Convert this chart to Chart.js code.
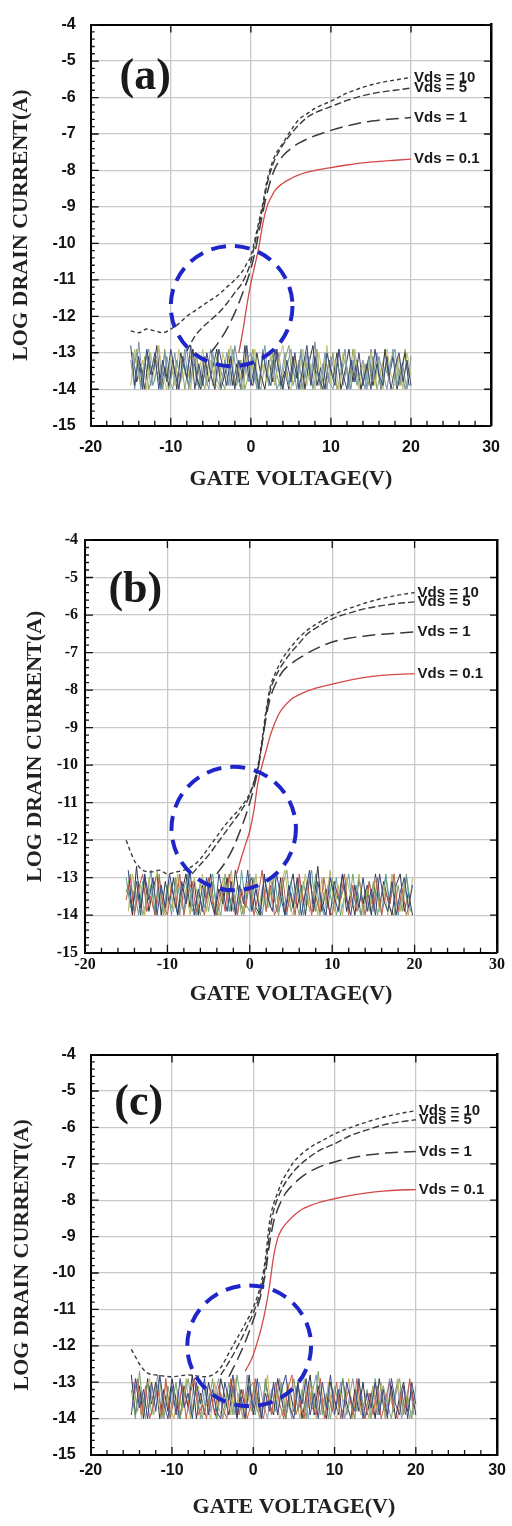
<!DOCTYPE html>
<html>
<head>
<meta charset="utf-8">
<script src="https://cdn.jsdelivr.net/npm/chart.js@4.4.0/dist/chart.umd.min.js"></script>
<style>
  html, body { margin: 0; padding: 0; background: #fff; }
  #page { position: relative; width: 512px; height: 1526px; overflow: hidden; }
  #page canvas { position: absolute; left: 0; }
</style>
</head>
<body>
<div id="page">
  <canvas id="panelA" width="512" height="500" style="top:0px"></canvas>
  <canvas id="panelB" width="512" height="500" style="top:520px"></canvas>
  <canvas id="panelC" width="512" height="496" style="top:1030px"></canvas>
</div>
<script>
const VDS_LABELS = ['Vds = 10', 'Vds = 5', 'Vds = 1', 'Vds = 0.1'];

// ---- panel (a) curves: gate voltage (V) / log drain current (A)
const A_V10_X = [-15, -14, -13, -12, -11, -10, -9, -8, -7, -6, -5, -4, -3, -2, -1, -0.5, 0, 0.5, 1, 1.5, 2, 2.5, 3, 4, 5, 6, 7, 8, 10, 12, 14, 16, 18, 20];
const A_V10_Y = [-12.4, -12.45, -12.35, -12.4, -12.45, -12.35, -12.2, -12.0, -11.85, -11.7, -11.55, -11.4, -11.2, -11.0, -10.75, -10.55, -10.35, -9.9, -9.4, -8.9, -8.3, -7.9, -7.6, -7.25, -6.9, -6.6, -6.45, -6.3, -6.1, -5.88, -5.72, -5.6, -5.52, -5.45];
const A_V5_X = [-8, -7, -6, -5, -4, -3, -2, -1, 0, 0.5, 1, 1.5, 2, 2.5, 3, 4, 5, 6, 7, 8, 10, 12, 14, 16, 18, 20];
const A_V5_Y = [-12.95, -12.55, -12.3, -12.1, -11.9, -11.65, -11.35, -11.05, -10.5, -10.0, -9.5, -9.0, -8.4, -8.0, -7.7, -7.3, -7.0, -6.75, -6.55, -6.42, -6.25, -6.08, -5.95, -5.86, -5.8, -5.74];
const A_V1_X = [-5, -4, -3, -2, -1, 0, 0.5, 1, 1.5, 2, 2.5, 3, 4, 5, 6, 8, 10, 12, 14, 16, 18, 20];
const A_V1_Y = [-13.0, -12.7, -12.35, -11.9, -11.35, -10.7, -10.25, -9.7, -9.15, -8.65, -8.25, -7.95, -7.6, -7.4, -7.25, -7.05, -6.9, -6.78, -6.68, -6.62, -6.58, -6.55];
const A_V01_X = [-1.5, -1, -0.5, 0, 0.5, 1, 1.5, 2, 2.5, 3, 4, 5, 6, 8, 10, 12, 14, 16, 18, 20];
const A_V01_Y = [-13.0, -12.4, -11.7, -11.1, -10.6, -10.1, -9.45, -9.0, -8.75, -8.55, -8.35, -8.22, -8.12, -8.0, -7.92, -7.85, -7.79, -7.75, -7.72, -7.69];

// ---- panel (b)
const B_V10_X = [-15, -14.5, -14, -13.5, -13, -12, -11, -10, -9, -8, -7, -6, -5, -4, -3, -2, -1, 0, 0.5, 1, 1.5, 2, 2.5, 3, 4, 5, 6, 7, 8, 10, 12, 14, 16, 18, 20];
const B_V10_Y = [-12.0, -12.3, -12.55, -12.7, -12.8, -12.85, -12.8, -12.9, -12.85, -12.8, -12.7, -12.5, -12.2, -11.9, -11.6, -11.35, -11.1, -10.75, -10.45, -10.0, -9.3, -8.5, -7.9, -7.6, -7.15, -6.85, -6.6, -6.4, -6.25, -6.0, -5.83, -5.68, -5.56, -5.47, -5.4];
const B_V5_X = [-7, -6, -5, -4, -3, -2, -1, 0, 0.5, 1, 1.5, 2, 2.5, 3, 4, 5, 6, 7, 8, 10, 12, 14, 16, 18, 20];
const B_V5_Y = [-12.9, -12.65, -12.4, -12.1, -11.8, -11.5, -11.2, -10.8, -10.45, -10.05, -9.4, -8.6, -8.0, -7.7, -7.3, -7.0, -6.75, -6.5, -6.35, -6.1, -5.95, -5.83, -5.75, -5.69, -5.65];
const B_V1_X = [-4, -3, -2, -1, -0.5, 0, 0.5, 1, 1.5, 2, 2.5, 3, 4, 5, 6, 8, 10, 12, 14, 16, 18, 20];
const B_V1_Y = [-12.9, -12.6, -12.2, -11.65, -11.35, -11.0, -10.6, -10.1, -9.4, -8.7, -8.2, -7.9, -7.5, -7.3, -7.15, -6.9, -6.72, -6.62, -6.56, -6.51, -6.48, -6.45];
const B_V01_X = [-1.6, -1, -0.5, 0, 0.5, 1, 1.5, 2, 2.5, 3, 3.5, 4, 5, 6, 8, 10, 12, 14, 16, 18, 20];
const B_V01_Y = [-12.9, -12.45, -12.1, -11.75, -11.2, -10.45, -10.0, -9.6, -9.2, -8.9, -8.65, -8.48, -8.25, -8.12, -7.95, -7.84, -7.74, -7.66, -7.61, -7.58, -7.56];

// ---- panel (c)
const C_V10_X = [-15, -14.5, -14, -13.5, -13, -12, -10, -8, -6, -5, -4, -3, -2, -1, 0, 0.5, 1, 1.5, 2, 2.5, 3, 3.5, 4, 5, 6, 7, 8, 9, 10, 12, 14, 16, 18, 20];
const C_V10_Y = [-12.1, -12.3, -12.5, -12.65, -12.75, -12.8, -12.85, -12.8, -12.85, -12.8, -12.6, -12.2, -11.8, -11.4, -10.95, -10.65, -10.25, -9.6, -8.6, -8.1, -7.8, -7.5, -7.3, -6.95, -6.72, -6.55, -6.42, -6.3, -6.18, -6.0, -5.85, -5.72, -5.62, -5.54];
const C_V5_X = [-4, -3, -2, -1, 0, 0.5, 1, 1.5, 2, 2.5, 3, 3.5, 4, 5, 6, 7, 8, 10, 12, 14, 16, 18, 20];
const C_V5_Y = [-12.8, -12.45, -12.05, -11.6, -11.1, -10.8, -10.4, -9.8, -8.9, -8.3, -7.95, -7.7, -7.5, -7.2, -6.98, -6.8, -6.65, -6.45, -6.22, -6.07, -5.93, -5.85, -5.79];
const C_V1_X = [-3, -2, -1, 0, 0.5, 1, 1.5, 2, 2.5, 3, 3.5, 4, 5, 6, 8, 10, 12, 14, 16, 18, 20];
const C_V1_Y = [-12.85, -12.4, -11.9, -11.3, -10.95, -10.55, -10.0, -9.2, -8.6, -8.25, -8.0, -7.8, -7.55, -7.35, -7.1, -6.95, -6.84, -6.76, -6.71, -6.68, -6.66];
const C_V01_X = [-1, -0.5, 0, 0.5, 1, 1.5, 2, 2.5, 3, 3.5, 4, 5, 6, 7, 8, 10, 12, 14, 16, 18, 20];
const C_V01_Y = [-12.7, -12.5, -12.25, -11.9, -11.5, -11.0, -10.35, -9.55, -9.05, -8.8, -8.65, -8.42, -8.25, -8.15, -8.07, -7.96, -7.87, -7.8, -7.75, -7.72, -7.71];

// ---- noise floor traces (off-state current, read as spikes between -12.7 and -14)
const NOISE_V_A = [-15, -14.5, -14, -13.5, -13, -12.5, -12, -11.5, -11, -10.5, -10, -9.5, -9, -8.5, -8, -7.5, -7, -6.5, -6, -5.5,
  -5, -4.5, -4, -3.5, -3, -2.5, -2, -1.5, -1, -0.5, 0, 0.5, 1, 1.5, 2, 2.5, 3, 3.5, 4, 4.5,
  5, 5.5, 6, 6.5, 7, 7.5, 8, 8.5, 9, 9.5, 10, 10.5, 11, 11.5, 12, 12.5, 13, 13.5, 14, 14.5,
  15, 15.5, 16, 16.5, 17, 17.5, 18, 18.5, 19, 19.5, 20];
const NOISE_V_B = [-14.75, -14.25, -13.75, -13.25, -12.75, -12.25, -11.75, -11.25, -10.75, -10.25, -9.75, -9.25, -8.75, -8.25, -7.75, -7.25, -6.75, -6.25, -5.75, -5.25,
  -4.75, -4.25, -3.75, -3.25, -2.75, -2.25, -1.75, -1.25, -0.75, -0.25, 0.25, 0.75, 1.25, 1.75, 2.25, 2.75, 3.25, 3.75, 4.25, 4.75,
  5.25, 5.75, 6.25, 6.75, 7.25, 7.75, 8.25, 8.75, 9.25, 9.75, 10.25, 10.75, 11.25, 11.75, 12.25, 12.75, 13.25, 13.75, 14.25, 14.75,
  15.25, 15.75, 16.25, 16.75, 17.25, 17.75, 18.25, 18.75, 19.25, 19.75];
const NOISE_1 = [-12.8, -13.9, -13.1, -14.0, -12.9, -13.6, -13.0, -14.0, -13.2, -13.8,
  -12.9, -13.5, -14.0, -13.1, -13.7, -12.8, -14.0, -13.3, -13.9, -13.0,
  -13.6, -14.0, -12.9, -13.4, -13.9, -13.1, -14.0, -13.2, -13.7, -12.8,
  -13.9, -13.3, -14.0, -13.0, -13.6, -13.9, -12.9, -13.5, -14.0, -13.2,
  -13.8, -13.0, -14.0, -13.4, -12.8, -13.9, -13.1, -13.7, -14.0, -13.0,
  -13.5, -13.9, -12.9, -13.6, -14.0, -13.2, -13.8, -13.0, -13.9, -13.3,
  -14.0, -12.9, -13.6, -13.9, -13.1, -14.0, -13.4, -13.0, -13.8, -13.2, -13.9];
const NOISE_2 = [-13.9, -12.9, -13.7, -13.2, -14.0, -13.0, -13.8, -12.8, -13.6, -14.0,
  -13.1, -13.9, -12.9, -13.7, -13.3, -14.0, -13.0, -13.6, -12.9, -13.9,
  -13.2, -13.8, -14.0, -13.0, -13.5, -12.8, -13.9, -13.4, -14.0, -13.1,
  -13.7, -12.9, -14.0, -13.3, -13.8, -13.0, -13.9, -13.2, -12.8, -13.7,
  -14.0, -13.1, -13.6, -12.9, -13.9, -13.3, -14.0, -13.0, -13.7, -12.8,
  -13.9, -13.2, -14.0, -13.0, -13.5, -13.8, -12.9, -14.0, -13.3, -13.7,
  -13.0, -13.9, -13.2, -14.0, -12.9, -13.6, -13.9, -13.1, -14.0, -13.0, -13.6];
const NOISE_3 = [-13.2, -14.0, -12.7, -13.8, -13.0, -13.9, -13.3, -12.9, -14.0, -13.1,
  -13.7, -13.0, -14.0, -13.4, -12.9, -13.8, -13.1, -14.0, -13.2, -13.6,
  -12.9, -14.0, -13.3, -13.7, -13.0, -13.9, -12.8, -13.5, -14.0, -13.2,
  -13.0, -13.8, -14.0, -12.9, -13.6, -13.1, -13.9, -13.0, -14.0, -13.4,
  -12.9, -13.8, -13.2, -14.0, -13.0, -13.7, -12.7, -13.9, -13.3, -14.0,
  -13.1, -13.6, -12.9, -13.9, -13.4, -14.0, -13.0, -13.7, -13.2, -14.0,
  -12.9, -13.8, -13.1, -13.6, -14.0, -13.2, -12.9, -13.9, -13.4, -14.0, -13.1];
const NOISE_4 = [-13.6, -13.0, -14.0, -13.3, -12.9, -13.9, -13.5, -14.0, -13.0, -13.7,
  -14.0, -13.2, -13.8, -12.9, -14.0, -13.4, -13.1, -13.9, -13.6, -14.0,
  -13.0, -13.7, -14.0, -13.2, -13.9, -12.9, -13.6, -14.0, -13.3, -13.8,
  -13.1, -14.0, -13.5, -12.8, -13.9, -13.2, -14.0, -13.7, -13.0, -13.9,
  -13.4, -14.0, -12.9, -13.7, -13.1, -14.0, -13.5, -13.9, -13.0, -13.8,
  -14.0, -13.3, -13.6, -12.9, -14.0, -13.2, -13.9, -13.5, -14.0, -13.1,
  -13.8, -13.0, -14.0, -13.4, -13.7, -12.9, -13.9, -13.3, -14.0, -13.6];
const NOISE_5 = [-13.0, -13.8, -13.3, -14.0, -13.1, -13.6, -12.8, -14.0, -13.4, -13.9,
  -13.2, -14.0, -13.0, -13.5, -13.9, -12.9, -13.7, -14.0, -13.1, -13.8,
  -13.4, -12.9, -14.0, -13.6, -13.1, -13.9, -13.3, -14.0, -12.8, -13.7,
  -13.9, -13.0, -13.6, -14.0, -13.2, -13.8, -12.9, -13.9, -13.5, -14.0,
  -13.1, -13.7, -13.0, -14.0, -13.3, -12.8, -13.9, -13.4, -14.0, -13.2,
  -13.7, -13.0, -14.0, -13.5, -12.9, -13.8, -13.2, -14.0, -13.6, -13.1,
  -13.9, -13.3, -14.0, -12.9, -13.7, -13.1, -14.0, -13.5, -13.0, -13.9];
const NOISE_6 = [-13.4, -12.9, -13.9, -13.1, -14.0, -13.6, -13.2, -13.9, -12.9, -14.0,
  -13.5, -13.8, -13.1, -14.0, -13.3, -12.9, -13.9, -13.6, -14.0, -13.2,
  -13.9, -13.1, -13.7, -14.0, -12.9, -13.5, -13.9, -13.2, -14.0, -13.6,
  -12.9, -13.8, -14.0, -13.3, -13.9, -13.0, -13.6, -14.0, -13.2, -12.8,
  -13.9, -13.5, -14.0, -13.1, -13.7, -13.9, -12.9, -14.0, -13.4, -13.8,
  -13.0, -14.0, -13.6, -13.2, -13.9, -12.9, -13.7, -14.0, -13.3, -13.9,
  -13.1, -14.0, -13.5, -13.0, -13.8, -14.0, -13.2, -13.9, -12.9, -13.7];

// axis limits and ticks
const X_MIN = -20, X_MAX = 30, X_STEP = 10;
const Y_MIN = -15, Y_MAX = -4, Y_STEP = 1;

function pts(xs, ys) {
  return xs.map((x, i) => ({ x: x, y: ys[i] })).filter(p => p.y !== undefined);
}

const CURVE_STYLE = [
  { color: '#3a3a3a', dash: [4, 3], width: 1.4 },
  { color: '#3a3a3a', dash: [7, 3], width: 1.4 },
  { color: '#3a3a3a', dash: [13, 6], width: 1.5 },
  { color: '#d44848', dash: [], width: 1.3 }
];

function decoPlugin(p) {
  return {
    id: 'deco',
    afterDatasetsDraw(chart) {
      const ctx = chart.ctx;
      const xs = chart.scales.x, ys = chart.scales.y;
      const a = chart.chartArea;
      ctx.save();

      // inward tick marks on all four sides
      ctx.strokeStyle = '#111';
      ctx.lineWidth = 1.3;
      ctx.setLineDash([]);
      ctx.beginPath();
      for (let k = 0; k <= 55; k++) {
        const v = Y_MIN + k * 0.2;
        const py = ys.getPixelForValue(v);
        const major = k % 5 === 0;
        ctx.moveTo(a.left, py); ctx.lineTo(a.left + (major ? 8 : 4), py);
        if (major) { ctx.moveTo(a.right, py); ctx.lineTo(a.right - 7, py); }
      }
      for (let k = 0; k <= 25; k++) {
        const v = X_MIN + k * 2;
        const px = xs.getPixelForValue(v);
        const major = k % 5 === 0;
        ctx.moveTo(px, a.bottom); ctx.lineTo(px, a.bottom - (major ? 8 : 5));
        if (major) { ctx.moveTo(px, a.top); ctx.lineTo(px, a.top + 8); }
      }
      ctx.stroke();

      // dashed blue circle
      const c = p.circle;
      const cx = xs.getPixelForValue(c.v), cy = ys.getPixelForValue(c.log);
      const rx = Math.abs(xs.getPixelForValue(c.v + c.rv) - cx);
      const ry = Math.abs(ys.getPixelForValue(c.log + c.rlog) - cy);
      ctx.beginPath();
      ctx.setLineDash([15, 9]);
      ctx.lineWidth = 4;
      ctx.strokeStyle = '#1f26c9';
      ctx.ellipse(cx, cy, rx, ry, 0, 0, Math.PI * 2);
      ctx.stroke();
      ctx.setLineDash([]);

      // Vds labels at the end of each curve
      ctx.fillStyle = '#1a1a1a';
      ctx.font = 'bold 15px "Liberation Sans", Arial, sans-serif';
      ctx.textAlign = 'left';
      ctx.textBaseline = 'middle';
      p.curves.forEach((cv, i) => {
        const xe = cv[0][cv[0].length - 1], ye = cv[1][cv[1].length - 1];
        ctx.fillText(VDS_LABELS[i], xs.getPixelForValue(xe) + 3, ys.getPixelForValue(ye));
      });

      // panel letter
      ctx.font = 'bold 44px "Liberation Serif", "Times New Roman", serif';
      ctx.textAlign = 'center';
      ctx.fillText(p.letter, xs.getPixelForValue(p.letterPos.v), ys.getPixelForValue(p.letterPos.log));
      ctx.restore();
    }
  };
}

function makePanel(id, p) {
  const datasets = [];
  p.curves.forEach((cv, i) => {
    const s = CURVE_STYLE[i];
    datasets.push({
      data: pts(cv[0], cv[1]), borderColor: s.color, borderDash: s.dash, borderWidth: s.width,
      showLine: true, pointRadius: 0, fill: false, cubicInterpolationMode: 'monotone'
    });
  });
  p.noise.forEach(n => {
    datasets.push({
      data: pts(n[0], n[1]), borderColor: n[2], borderWidth: 1,
      showLine: true, pointRadius: 0, fill: false, tension: 0
    });
  });
  const tickFont = { family: p.tickFamily, weight: 'bold', size: 16 };
  const titleFont = { family: '"Liberation Serif", "Times New Roman", serif', weight: 'bold', size: 22 };
  new Chart(document.getElementById(id), {
    type: 'scatter',
    data: { datasets: datasets },
    options: {
      responsive: false, animation: false, events: [],
      layout: { padding: 0 },
      plugins: { legend: { display: false }, tooltip: { enabled: false } },
      scales: {
        x: {
          type: 'linear', position: 'bottom', min: X_MIN, max: X_MAX,
          ticks: { stepSize: X_STEP, font: tickFont, color: '#111', padding: p.xTickPad, maxRotation: 0 },
          grid: { color: '#c9c9c9', lineWidth: 1.3, drawTicks: false },
          border: { color: '#000', width: 2 },
          title: { display: true, text: 'GATE VOLTAGE(V)', font: titleFont, color: '#222', padding: { top: 0, bottom: p.xTitlePad } },
          afterFit(s) { s.height = p.bottom; }
        },
        y: {
          type: 'linear', position: 'left', min: Y_MIN, max: Y_MAX,
          ticks: { stepSize: Y_STEP, font: tickFont, color: '#111', padding: p.yTickPad },
          grid: { color: '#c9c9c9', lineWidth: 1.3, drawTicks: false },
          border: { color: '#000', width: 2 },
          title: { display: true, text: 'LOG DRAIN CURRENT(A)', font: titleFont, color: '#222', padding: { top: p.yTitlePad, bottom: 0 } },
          afterFit(s) { s.width = p.left; }
        },
        x2: {
          type: 'linear', position: 'top', min: X_MIN, max: X_MAX,
          ticks: { display: false }, grid: { display: false, drawTicks: false },
          border: { color: '#000', width: 2 },
          afterFit(s) { s.height = p.top; }
        },
        y2: {
          type: 'linear', position: 'right', min: Y_MIN, max: Y_MAX,
          ticks: { display: false }, grid: { display: false, drawTicks: false },
          border: { color: '#000', width: 2.5 },
          afterFit(s) { s.width = p.right; }
        }
      }
    },
    plugins: [decoPlugin(p)]
  });
}

makePanel('panelA', {
  curves: [[A_V10_X, A_V10_Y], [A_V5_X, A_V5_Y], [A_V1_X, A_V1_Y], [A_V01_X, A_V01_Y]],
  noise: [
    [NOISE_V_A, NOISE_1, '#3b4878'], [NOISE_V_B, NOISE_4, '#6f9aa6'], [NOISE_V_A, NOISE_2, '#c6c170'],
    [NOISE_V_B, NOISE_5, '#353a44'], [NOISE_V_A, NOISE_3, '#7d8fa3'], [NOISE_V_B, NOISE_6, '#8e9f5e']
  ],
  letter: '(a)', letterPos: { v: -13.2, log: -5.46 },
  circle: { v: -2.4, log: -11.72, rv: 7.6, rlog: 1.65 },
  tickFamily: '"Liberation Sans", Arial, sans-serif',
  left: 90.7, right: 12, top: 18.3, bottom: 74.3,
  xTickPad: 12, yTickPad: 15, xTitlePad: 7, yTitlePad: 8.5
});

makePanel('panelB', {
  curves: [[B_V10_X, B_V10_Y], [B_V5_X, B_V5_Y], [B_V1_X, B_V1_Y], [B_V01_X, B_V01_Y]],
  noise: [
    [NOISE_V_B, NOISE_1, '#34447e'], [NOISE_V_A, NOISE_4, '#c0584a'], [NOISE_V_B, NOISE_2, '#b7b862'],
    [NOISE_V_A, NOISE_5, '#5f9898'], [NOISE_V_B, NOISE_3, '#30343c'], [NOISE_V_A, NOISE_6, '#78a26a']
  ],
  letter: '(b)', letterPos: { v: -13.9, log: -5.36 },
  circle: { v: -1.95, log: -11.69, rv: 7.55, rlog: 1.645 },
  tickFamily: '"Liberation Serif", "Times New Roman", serif',
  left: 85, right: 15, top: 20, bottom: 67.3,
  xTickPad: 3, yTickPad: 7, xTitlePad: 12, yTitlePad: 22
});

makePanel('panelC', {
  curves: [[C_V10_X, C_V10_Y], [C_V5_X, C_V5_Y], [C_V1_X, C_V1_Y], [C_V01_X, C_V01_Y]],
  noise: [
    [NOISE_V_A, NOISE_2, '#3b4988'], [NOISE_V_B, NOISE_6, '#c25a48'], [NOISE_V_A, NOISE_3, '#76a070'],
    [NOISE_V_B, NOISE_4, '#bfb162'], [NOISE_V_A, NOISE_1, '#30343c'], [NOISE_V_B, NOISE_5, '#8a96a8']
  ],
  letter: '(c)', letterPos: { v: -14.1, log: -5.35 },
  circle: { v: -0.5, log: -12.0, rv: 7.62, rlog: 1.66 },
  tickFamily: '"Liberation Sans", Arial, sans-serif',
  left: 90.7, right: 11.3, top: 19.3, bottom: 71,
  xTickPad: 6, yTickPad: 15, xTitlePad: 5, yTitlePad: 9.3
});
</script>
</body>
</html>
